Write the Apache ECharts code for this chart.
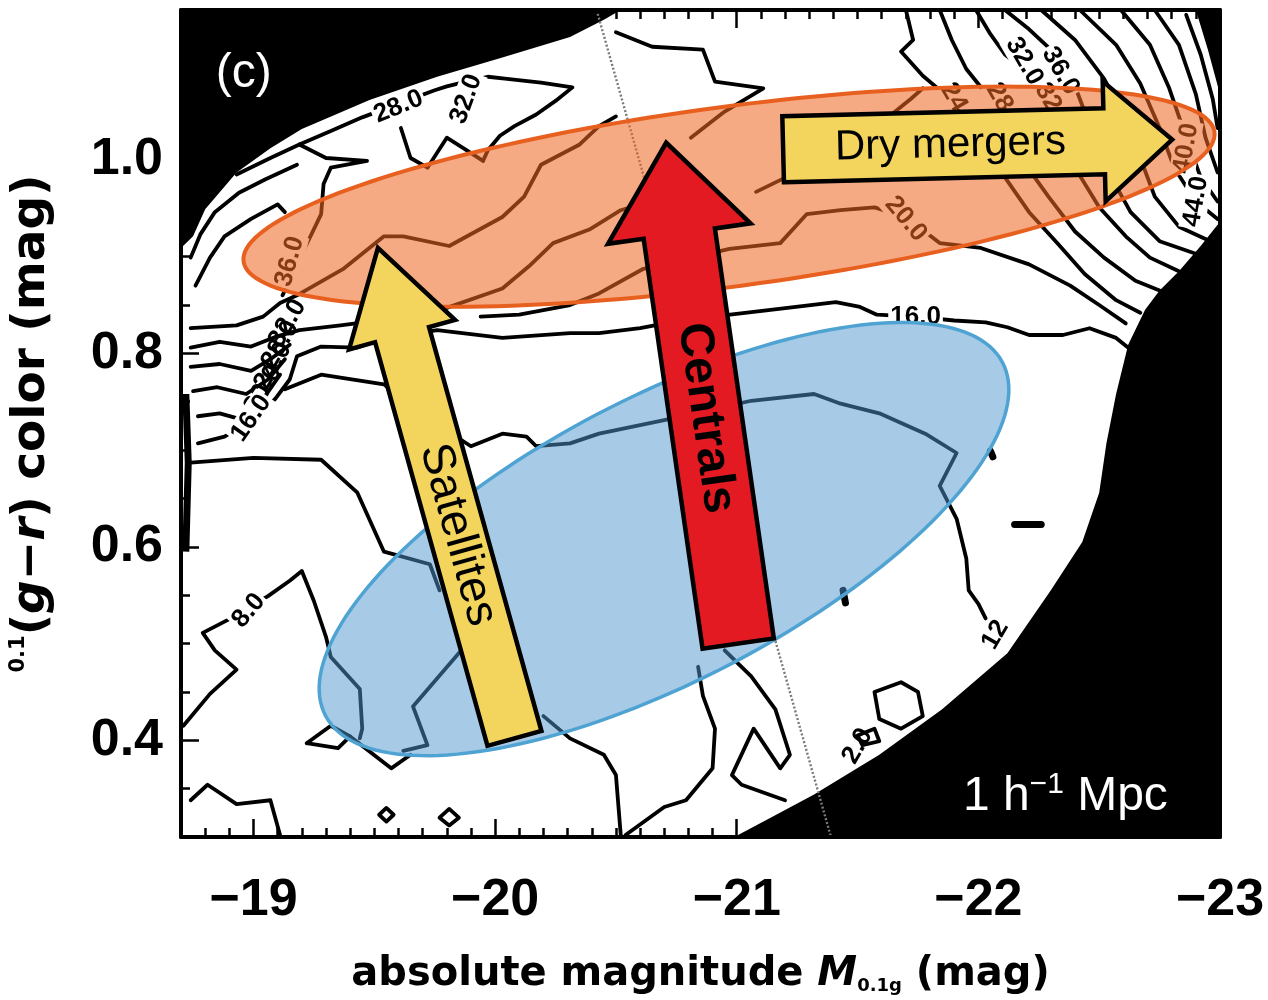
<!DOCTYPE html>
<html>
<head>
<meta charset="utf-8">
<script src="https://cdn.jsdelivr.net/npm/echarts@6/dist/echarts.min.js"></script>
<style>
html, body { margin: 0; padding: 0; background: #fff; }
#chart { width: 1268px; height: 1000px; }
</style>
</head>
<body>
<div id="chart"></div>
<script>
// ---- axes -------------------------------------------------------------
const xTicks = [-19, -20, -21, -22, -23];
const yTicks = [0.4, 0.6, 0.8, 1.0];
const xRange = [-23, -18.7];
const yRange = [0.3, 1.155];

// ---- region of the colour-magnitude plane that holds galaxies --------
const coverage = [
  [-18.70, 0.909], [-18.75, 0.921], [-18.80, 0.949], [-18.93, 0.987], [-19.07, 1.012],
  [-19.20, 1.032], [-19.35, 1.048], [-19.48, 1.062], [-19.76, 1.086], [-20.03, 1.106],
  [-20.31, 1.127], [-20.45, 1.145], [-20.52, 1.155], [-22.90, 1.155], [-22.95, 1.114],
  [-23.00, 1.068], [-23.00, 0.936], [-22.92, 0.911], [-22.83, 0.885], [-22.75, 0.865],
  [-22.69, 0.845], [-22.62, 0.809], [-22.57, 0.758], [-22.53, 0.707], [-22.50, 0.656],
  [-22.43, 0.605], [-22.30, 0.555], [-22.12, 0.490], [-21.85, 0.432], [-21.59, 0.385],
  [-21.32, 0.344], [-21.14, 0.320], [-20.99, 0.300], [-18.70, 0.300]
];

// ---- iso-density contours (magnitude, colour) --------------------------
const c28 = [[-18.93,0.985],[-19.07,1.002],[-19.19,1.016],[-19.32,1.030],[-19.45,1.044],[-19.75,1.072],[-19.80,1.076],[-19.88,1.081],[-19.97,1.086],[-20.04,1.084],[-20.19,1.080],[-20.32,1.075],[-20.25,1.061],[-20.17,1.047],[-20.08,1.035],[-20.02,1.025],[-19.97,1.010],[-19.95,0.999]];
const c32 = [[-19.61,1.033],[-19.65,1.002],[-19.72,0.992],[-19.80,1.023],[-19.87,1.012],[-19.95,0.999]];
const c36 = [[-19.19,1.016],[-19.30,1.002],[-19.47,0.999],[-19.32,0.992],[-19.29,0.975],[-19.28,0.944],[-19.23,0.918],[-19.19,0.898],[-19.15,0.875],[-19.12,0.860]];
const cRidgeA = [[-18.74,0.826],[-18.93,0.829],[-19.04,0.838],[-19.11,0.852],[-19.18,0.860],[-19.37,0.887],[-19.54,0.921],[-19.62,0.921],[-19.81,0.911],[-20.03,0.941],[-20.12,0.962],[-20.19,0.995],[-20.35,1.016],[-20.43,1.035],[-20.50,1.045]];
const cRidgeB = [[-18.74,0.806],[-18.86,0.812],[-18.99,0.807],[-19.09,0.817],[-19.19,0.824],[-19.36,0.829],[-19.52,0.834],[-19.69,0.840],[-19.80,0.847],[-20.03,0.867],[-20.14,0.890],[-20.24,0.914],[-20.39,0.928],[-20.52,0.948],[-20.64,0.957]];
const cRidgeC = [[-21.08,0.967],[-21.22,0.984],[-21.39,1.002],[-21.53,1.023],[-21.63,1.045],[-21.72,1.063],[-21.77,1.074]];
const c20 = [[-19.94,0.838],[-20.10,0.840],[-20.31,0.850],[-20.43,0.862],[-20.61,0.887],[-20.97,0.908],[-21.18,0.914],[-21.29,0.944],[-21.43,0.948],[-21.57,0.951],[-21.70,0.941],[-21.84,0.914],[-22.01,0.909],[-22.21,0.892],[-22.38,0.870],[-22.50,0.850],[-22.61,0.831]];
const c16 = [[-18.77,0.707],[-18.88,0.714],[-18.96,0.726],[-19.03,0.738],[-19.09,0.753],[-19.15,0.773],[-19.18,0.797],[-19.28,0.807],[-19.43,0.806],[-19.52,0.814],[-19.76,0.824],[-20.03,0.816],[-20.31,0.821],[-20.43,0.821],[-20.60,0.826],[-20.77,0.834],[-21.14,0.845],[-21.41,0.853],[-21.51,0.848],[-21.58,0.840],[-21.74,0.838],[-21.90,0.834],[-22.03,0.832],[-22.12,0.827],[-22.21,0.819],[-22.35,0.819],[-22.46,0.826],[-22.57,0.816],[-22.64,0.802]];
const cEdge1 = [[-18.74,0.786],[-18.86,0.789],[-18.99,0.782],[-19.07,0.794],[-19.15,0.809]];
const cEdge2 = [[-18.75,0.761],[-18.85,0.765],[-18.97,0.758],[-19.06,0.773],[-19.13,0.794]];
const cEdge3 = [[-18.77,0.735],[-18.86,0.738],[-18.96,0.731],[-19.04,0.753],[-19.11,0.778]];
const c12 = [[-19.13,0.763],[-19.28,0.778],[-19.54,0.768],[-19.69,0.738],[-19.90,0.704],[-20.03,0.717],[-20.13,0.714],[-20.17,0.704],[-20.31,0.707],[-20.43,0.717],[-20.70,0.731],[-21.06,0.751],[-21.32,0.758],[-21.43,0.748],[-21.59,0.738],[-21.78,0.717],[-21.91,0.697],[-21.84,0.663],[-21.91,0.629],[-21.95,0.588],[-21.96,0.555],[-22.00,0.541],[-22.03,0.526]];
const c10 = [[-18.74,0.687],[-19.00,0.692],[-19.28,0.690],[-19.43,0.656],[-19.54,0.595],[-19.73,0.582],[-19.77,0.555]];
const c8 = [[-18.71,0.415],[-18.82,0.448],[-18.93,0.473],[-18.84,0.493],[-18.79,0.511],[-18.89,0.524],[-18.98,0.537],[-19.06,0.549],[-19.15,0.565],[-19.20,0.575],[-19.25,0.544],[-19.30,0.507],[-19.32,0.486],[-19.44,0.453],[-19.45,0.412],[-19.44,0.402]];
const cLowA = [[-19.87,0.496],[-19.66,0.435],[-19.72,0.395],[-19.62,0.389]];
const cLowB = [[-19.22,0.397],[-19.32,0.415],[-19.40,0.404],[-19.35,0.392],[-19.22,0.397]];
const cLowC = [[-19.40,0.404],[-19.57,0.371],[-19.65,0.385]];
const cLowD = [[-18.74,0.338],[-18.81,0.354],[-18.93,0.334],[-19.07,0.338],[-19.11,0.302]];
const cIsleA = [[-19.52,0.323],[-19.55,0.330],[-19.58,0.323],[-19.55,0.316],[-19.52,0.323]];
const cIsleB = [[-19.77,0.320],[-19.81,0.329],[-19.85,0.320],[-19.81,0.312],[-19.77,0.320]];
const cLowE = [[-20.20,0.425],[-20.31,0.402],[-20.45,0.385],[-20.50,0.364],[-20.52,0.302]];
const cLowF = [[-20.84,0.476],[-20.86,0.446],[-20.91,0.412],[-20.90,0.371],[-20.79,0.338],[-20.70,0.331],[-20.54,0.302]];
const cLowG = [[-20.95,0.493],[-21.06,0.466],[-21.16,0.432],[-21.22,0.385],[-21.18,0.371],[-21.07,0.412],[-20.98,0.364],[-21.02,0.354],[-21.20,0.338]];
const cIsleC = [[-21.59,0.422],[-21.57,0.450],[-21.68,0.460],[-21.75,0.450],[-21.77,0.425],[-21.68,0.412],[-21.59,0.422]];
const cIsleD = [[-21.50,0.405],[-21.57,0.412],[-21.59,0.399],[-21.52,0.395],[-21.50,0.405]];
const cTop = [[-20.50,1.132],[-20.65,1.117],[-20.86,1.114],[-20.91,1.081],[-21.11,1.074],[-20.95,1.050],[-20.81,1.023]];
const c24 = [[-21.70,1.155],[-21.73,1.124],[-21.68,1.112],[-21.77,1.087],[-21.86,1.068],[-21.96,1.045],[-22.05,1.012],[-22.11,0.982],[-22.21,0.946],[-22.33,0.913],[-22.44,0.882],[-22.57,0.855],[-22.67,0.842]];
const c28b = [[-21.84,1.155],[-21.89,1.124],[-21.95,1.094],[-22.05,1.063],[-22.13,1.033],[-22.19,0.997],[-22.29,0.962],[-22.40,0.926],[-22.52,0.899],[-22.65,0.875],[-22.75,0.865]];
const c32b = [[-21.99,1.155],[-22.05,1.130],[-22.11,1.109],[-22.21,1.089],[-22.28,1.068],[-22.34,1.033],[-22.40,0.992],[-22.50,0.951],[-22.61,0.921],[-22.71,0.899],[-22.83,0.885]];
const c36b = [[-22.11,1.155],[-22.21,1.135],[-22.30,1.114],[-22.38,1.089],[-22.42,1.063],[-22.48,1.023],[-22.55,0.982],[-22.63,0.946],[-22.75,0.916],[-22.90,0.903]];
const c40 = [[-22.26,1.155],[-22.40,1.124],[-22.52,1.084],[-22.61,1.043],[-22.67,1.002],[-22.73,0.962],[-22.83,0.931],[-22.96,0.916]];
const c44 = [[-22.42,1.155],[-22.57,1.119],[-22.67,1.079],[-22.75,1.033],[-22.81,0.992],[-22.90,0.957],[-22.99,0.939]];
const c48 = [[-22.59,1.155],[-22.71,1.119],[-22.79,1.074],[-22.86,1.023],[-22.92,0.982],[-22.99,0.957]];
const c52 = [[-22.73,1.155],[-22.83,1.119],[-22.90,1.068],[-22.94,1.023],[-22.99,0.987]];
const c56 = [[-22.86,1.150],[-22.92,1.109],[-22.97,1.063],[-22.99,1.033]];
const cRim1 = [[-18.74,0.899],[-18.78,0.923],[-18.84,0.946],[-18.94,0.966],[-19.05,0.980],[-19.18,0.995]];
const cRim2 = [[-18.76,0.870],[-18.82,0.899],[-18.88,0.921],[-18.99,0.939],[-19.10,0.954],[-19.13,0.946]];
const cRim3 = [[-18.72,0.758],[-18.73,0.687],[-18.72,0.595]];

const contours = [c28, c32, c36, cRidgeA, cRidgeB, cRidgeC, c20, c16, cEdge1, cEdge2, cEdge3,
  c12, c10, c8, cLowA, cLowB, cLowC, cLowD, cIsleA, cIsleB, cLowE, cLowF, cLowG, cIsleC, cIsleD,
  cTop, c24, c28b, c32b, c36b, c40, c44, c48, c52, c56, cRim1, cRim2];
const edgeStrokes = [cRim3];

// tiny closed contours around single cells
const specks = [
  [[-22.15,0.623],[-22.26,0.623]],
  [[-22.05,0.699],[-22.06,0.693]],
  [[-21.44,0.555],[-21.45,0.542]]
];

// contour level labels: magnitude, colour, text
const contourLabels = [
  [-19.60,1.055,'28.0'], [-19.88,1.063,'32.0'], [-19.15,0.895,'36.0'],
  [-19.14,0.831,'32.0'], [-19.11,0.809,'28.0'], [-19.08,0.787,'24.0'], [-19.04,0.763,'20.0'],
  [-18.99,0.733,'16.0'], [-18.98,0.534,'8.0'], [-21.74,0.838,'16.0'], [-21.70,0.939,'20.0'],
  [-21.92,1.055,'24.0'], [-22.11,1.055,'28.0'], [-22.31,1.055,'32.0'],
  [-22.19,1.102,'32.0'], [-22.34,1.092,'36.0'], [-22.86,1.012,'40.0'], [-22.90,0.957,'44.0'],
  [-22.07,0.509,'12'], [-21.50,0.394,'2.0']
];
const labelAngles = [22, 70, 75, 60, 60, 60, 60, 55, 50, 0, -50, -60, -60, -60, -60, -60, 80, 80, 60, 60];
const labelBoxed  = [1, 1, 1, 0, 0, 0, 0, 1, 1, 1, 1, 1, 1, 1, 1, 1, 1, 1, 0, 0];

// great-circle trace crossing the panel
const tracer = [[-20.42, 1.155], [-21.39, 0.300]];

// populations: centre, end of long axis, end of short axis
const redSequence = [[-20.968, 0.962], [-22.977, 1.029], [-20.917, 1.054]];
const blueCloud   = [[-20.699, 0.608], [-22.099, 0.791], [-20.422, 0.737]];

// evolutionary tracks: tail, head
const satellitesTrack = [[-20.080, 0.402], [-19.515, 0.909]];
const centralsTrack   = [[-21.006, 0.500], [-20.708, 1.018]];
const dryMergerTrack  = [[-21.192, 1.011], [-22.802, 1.021]];
const trackNames = ['Satellites', 'Centrals', 'Dry mergers'];

const panelTag = [-18.96, 1.089];
const scaleTag = [-22.36, 0.342];

// ---- styling ----------------------------------------------------------
const SANS = '"Liberation Sans", Arial, Helvetica, sans-serif';
const TITLE = '"DejaVu Sans", sans-serif';
const ellipseStyles = [
  { fill: 'rgba(238,104,34,0.56)', stroke: '#E8601F', lineWidth: 4 },
  { fill: 'rgba(80,150,205,0.5)', stroke: '#4FA3D3', lineWidth: 3.5 }
];
const trackStyles = [
  { fill: '#F3D55E', shaft: 28, head: 55, headLen: 90, font: '46px ' + SANS, reads: 'down', at: 0.415 },
  { fill: '#E31A22', shaft: 36, head: 72, headLen: 92, font: 'bold 48px ' + SANS, reads: 'down', at: 0.45 },
  { fill: '#F3D55E', shaft: 33, head: 60, headLen: 68, font: '42px ' + SANS, reads: 'along', at: 0.43 }
];

// ---- helpers ----------------------------------------------------------
function ellipsePoints(api, spec) {
  const c = api.coord(spec[0]), a = api.coord(spec[1]), b = api.coord(spec[2]);
  const pts = [];
  for (let i = 0; i < 180; i++) {
    const t = i / 180 * Math.PI * 2;
    pts.push([
      c[0] + (a[0] - c[0]) * Math.cos(t) + (b[0] - c[0]) * Math.sin(t),
      c[1] + (a[1] - c[1]) * Math.cos(t) + (b[1] - c[1]) * Math.sin(t)
    ]);
  }
  return pts;
}

function arrowPoints(tail, tip, s) {
  const dx = tip[0] - tail[0], dy = tip[1] - tail[1], L = Math.hypot(dx, dy);
  const ux = dx / L, uy = dy / L, nx = -uy, ny = ux;
  const nk = [tip[0] - ux * s.headLen, tip[1] - uy * s.headLen];
  return [
    [tail[0] + nx * s.shaft, tail[1] + ny * s.shaft],
    [nk[0] + nx * s.shaft, nk[1] + ny * s.shaft],
    [nk[0] + nx * s.head, nk[1] + ny * s.head],
    [tip[0], tip[1]],
    [nk[0] - nx * s.head, nk[1] - ny * s.head],
    [nk[0] - nx * s.shaft, nk[1] - ny * s.shaft],
    [tail[0] - nx * s.shaft, tail[1] - ny * s.shaft]
  ];
}

function minorSteps(from, to, step, skipEvery) {
  const out = [];
  const n = Math.round((to - from) / step);
  for (let i = 0; i <= n; i++) {
    const v = +(from + i * step).toFixed(3);
    if (Math.abs(v / skipEvery - Math.round(v / skipEvery)) > 1e-6) out.push(v);
  }
  return out;
}
const xMinor = minorSteps(-23, -18.7, 0.1, 1);
const yMinor = minorSteps(0.3, 1.15, 0.05, 0.2);

// ---- series -----------------------------------------------------------
const series = [];

series.push({
  type: 'custom', z: 1, silent: true, clip: true,
  data: [coverage[0]],
  renderItem: (params, api) => ({
    type: 'polygon',
    shape: { points: coverage.map(p => api.coord(p)) },
    style: { fill: '#fff' }
  })
});

contours.forEach(path => series.push({
  type: 'line', z: 2, silent: true, symbol: 'none', clip: true, animation: false,
  data: path,
  lineStyle: { color: '#000', width: 3.8, join: 'round', cap: 'round' }
}));
edgeStrokes.forEach(path => series.push({
  type: 'line', z: 2, silent: true, symbol: 'none', clip: true,
  data: path, lineStyle: { color: '#000', width: 7 }
}));
specks.forEach(path => series.push({
  type: 'line', z: 2, silent: true, symbol: 'none', clip: true,
  data: path, lineStyle: { color: '#000', width: 7, cap: 'round' }
}));

series.push({
  type: 'line', z: 3, silent: true, symbol: 'none', clip: true,
  data: tracer, lineStyle: { color: '#7a7a7a', width: 2.4, type: [2, 2] }
});

series.push({
  type: 'custom', z: 3, silent: true, clip: true,
  data: contourLabels.map(l => [l[0], l[1]]),
  renderItem: (params, api) => {
    const i = params.dataIndex;
    const p = api.coord([contourLabels[i][0], contourLabels[i][1]]);
    return {
      type: 'text', x: p[0], y: p[1], rotation: labelAngles[i] * Math.PI / 180,
      style: {
        text: contourLabels[i][2], fill: '#000',
        font: 'bold 26px ' + SANS, align: 'center', verticalAlign: 'middle',
        backgroundColor: labelBoxed[i] ? '#fff' : 'transparent', padding: [0, 2]
      }
    };
  }
});

series.push({
  type: 'custom', z: 4, silent: true, clip: false,
  data: [blueCloud[0], redSequence[0]],
  renderItem: (params, api) => {
    const spec = params.dataIndex === 0 ? blueCloud : redSequence;
    const st = ellipseStyles[params.dataIndex === 0 ? 1 : 0];
    return {
      type: 'polygon', shape: { points: ellipsePoints(api, spec) },
      style: { fill: st.fill, stroke: st.stroke, lineWidth: st.lineWidth }
    };
  }
});

const tracks = [satellitesTrack, centralsTrack, dryMergerTrack];
series.push({
  type: 'custom', z: 5, silent: true, clip: false,
  data: tracks.map(t => t[1]),
  renderItem: (params, api) => {
    const i = params.dataIndex, s = trackStyles[i];
    const tail = api.coord(tracks[i][0]), tip = api.coord(tracks[i][1]);
    const v = s.reads === 'down' ? [tail[0] - tip[0], tail[1] - tip[1]] : [tip[0] - tail[0], tip[1] - tail[1]];
    return {
      type: 'group',
      children: [
        { type: 'polygon', shape: { points: arrowPoints(tail, tip, s) },
          style: { fill: s.fill, stroke: '#000', lineWidth: 4.5, lineJoin: 'miter' } },
        { type: 'text',
          x: tail[0] + (tip[0] - tail[0]) * s.at, y: tail[1] + (tip[1] - tail[1]) * s.at,
          rotation: Math.atan2(-v[1], v[0]),
          style: { text: trackNames[i], font: s.font, fill: '#000', align: 'center', verticalAlign: 'middle' } }
      ]
    };
  }
});

series.push({
  type: 'custom', z: 6, silent: true, clip: false,
  data: [panelTag, scaleTag],
  renderItem: (params, api) => {
    const p = api.coord(params.dataIndex === 0 ? panelTag : scaleTag);
    if (params.dataIndex === 0) {
      return { type: 'text', x: p[0], y: p[1],
        style: { text: '(c)', fill: '#fff', font: '48px ' + SANS, align: 'center', verticalAlign: 'middle' } };
    }
    return { type: 'text', x: p[0], y: p[1],
      style: { text: '{a|1 h}{b|\u22121}{a| Mpc}', fill: '#fff', align: 'center', verticalAlign: 'middle',
        rich: {
          a: { fontSize: 48, fontFamily: SANS, fill: '#fff', lineHeight: 54 },
          b: { fontSize: 30, fontFamily: SANS, fill: '#fff', verticalAlign: 'top', lineHeight: 54, padding: [0, 0, 20, 0] }
        } } };
  }
});

// ---- axes -------------------------------------------------------------
const frame = { show: true, lineStyle: { color: '#000', width: 4 } };
const tickLabelFont = { fontFamily: '"Liberation Sans Narrow", "Liberation Sans", Arial, sans-serif', fontWeight: 'bold', fontSize: 52, color: '#000' };
const majorTick = len => ({ show: true, inside: true, length: len, lineStyle: { color: '#000', width: 2.5 } });

const option = {
  animation: false,
  backgroundColor: '#fff',
  grid: { left: 181, right: 48, top: 10, bottom: 150, show: true, backgroundColor: '#000', borderWidth: 0 },
  xAxis: [
    { type: 'value', min: xRange[0], max: xRange[1], inverse: true, position: 'bottom', z: 10,
      axisLine: frame, splitLine: { show: false },
      axisTick: Object.assign(majorTick(18), { customValues: xTicks }),
      axisLabel: Object.assign({ customValues: xTicks, margin: 38,
        formatter: v => (v < 0 ? '\u2212' : '') + Math.abs(v) }, tickLabelFont),
      name: '{t|absolute magnitude }{i|M}{s|0.1g}{t| (mag)}', nameLocation: 'middle', nameGap: 118,
      nameTextStyle: { rich: {
        t: { fontFamily: TITLE, fontWeight: 'bold', fontSize: 40, color: '#000' },
        i: { fontFamily: TITLE, fontWeight: 'bold', fontStyle: 'italic', fontSize: 40, color: '#000' },
        s: { fontFamily: TITLE, fontWeight: 'bold', fontSize: 18, color: '#000', verticalAlign: 'bottom', padding: [16, 0, 0, 0] }
      } } },
    { type: 'value', min: xRange[0], max: xRange[1], inverse: true, position: 'bottom', z: 10,
      axisLine: { show: false }, splitLine: { show: false }, axisLabel: { show: false },
      axisTick: Object.assign(majorTick(9), { customValues: xMinor }) },
    { type: 'value', min: xRange[0], max: xRange[1], inverse: true, position: 'top', z: 10,
      axisLine: frame, splitLine: { show: false }, axisLabel: { show: false },
      axisTick: Object.assign(majorTick(18), { customValues: xTicks }) },
    { type: 'value', min: xRange[0], max: xRange[1], inverse: true, position: 'top', z: 10,
      axisLine: { show: false }, splitLine: { show: false }, axisLabel: { show: false },
      axisTick: Object.assign(majorTick(9), { customValues: xMinor }) }
  ],
  yAxis: [
    { type: 'value', min: yRange[0], max: yRange[1], position: 'left', z: 10,
      axisLine: frame, splitLine: { show: false },
      axisTick: Object.assign(majorTick(18), { customValues: yTicks }),
      axisLabel: Object.assign({ customValues: yTicks, margin: 18, formatter: v => v.toFixed(1) }, tickLabelFont),
      name: '{s|0.1}{t|(}{i|g}{t|\u2212}{i|r}{t|) color (mag)}', nameLocation: 'middle', nameRotate: 90, nameGap: 126,
      nameTextStyle: { rich: {
        t: { fontFamily: TITLE, fontWeight: 'bold', fontSize: 47, color: '#000' },
        i: { fontFamily: TITLE, fontWeight: 'bold', fontStyle: 'italic', fontSize: 47, color: '#000' },
        s: { fontFamily: TITLE, fontWeight: 'bold', fontSize: 21, color: '#000', verticalAlign: 'top', padding: [0, 0, 18, 0] }
      } } },
    { type: 'value', min: yRange[0], max: yRange[1], position: 'left', z: 10,
      axisLine: { show: false }, splitLine: { show: false }, axisLabel: { show: false },
      axisTick: Object.assign(majorTick(9), { customValues: yMinor }) },
    { type: 'value', min: yRange[0], max: yRange[1], position: 'right', z: 10,
      axisLine: frame, splitLine: { show: false }, axisLabel: { show: false }, axisTick: { show: false } }
  ],
  series: series
};

const chart = echarts.init(document.getElementById('chart'));
chart.setOption(option);
</script>
</body>
</html>
